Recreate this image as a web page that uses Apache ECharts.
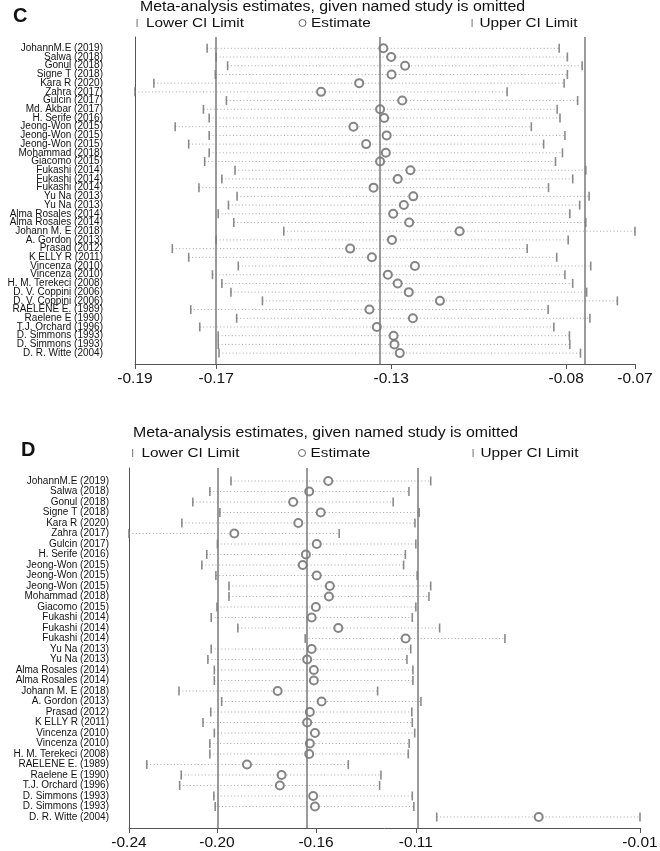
<!DOCTYPE html>
<html>
<head>
<meta charset="utf-8">
<script src="https://cdn.jsdelivr.net/npm/echarts@6/dist/echarts.min.js"></script>
<style>
html,body{margin:0;padding:0;background:#fff;}
#chart{width:660px;height:851px;}
</style>
</head>
<body>
<div id="chart"></div>
<script>
// ---------- Panel C data ----------
const studiesC = ["JohannM.E (2019)","Salwa (2018)","Gonul (2018)","Signe T (2018)","Kara R (2020)","Zahra (2017)","Gulcin (2017)","Md. Akbar (2017)","H. Serife (2016)","Jeong-Won (2015)","Jeong-Won (2015)","Jeong-Won (2015)","Mohammad (2018)","Giacomo (2015)","Fukashi (2014)","Fukashi (2014)","Fukashi (2014)","Yu Na (2013)","Yu Na (2013)","Alma Rosales (2014)","Alma Rosales (2014)","Johann M. E (2018)","A. Gordon (2013)","Prasad (2012)","K ELLY R (2011)","Vincenza (2010)","Vincenza (2010)","H. M. Terekeci (2008)","D. V. Coppini (2006)","D. V. Coppini (2006)","RAELENE E. (1989)","Raelene E (1990)","T.J. Orchard (1996)","D. Simmons (1993)","D. Simmons (1993)","D. R. Witte (2004)"];
const lowerC = [-0.1721,-0.1699,-0.1671,-0.1701,-0.1851,-0.1897,-0.1674,-0.1730,-0.1716,-0.1799,-0.1716,-0.1766,-0.1716,-0.1727,-0.1653,-0.1685,-0.1741,-0.1648,-0.1669,-0.1694,-0.1656,-0.1534,-0.1699,-0.1806,-0.1766,-0.1645,-0.1708,-0.1685,-0.1663,-0.1586,-0.1761,-0.1649,-0.1739,-0.1694,-0.1694,-0.1692];
const estC = [-0.1291,-0.1272,-0.1238,-0.1271,-0.1350,-0.1443,-0.1245,-0.1299,-0.1289,-0.1364,-0.1283,-0.1333,-0.1285,-0.1299,-0.1225,-0.1256,-0.1315,-0.1218,-0.1241,-0.1267,-0.1228,-0.1105,-0.1270,-0.1372,-0.1319,-0.1214,-0.1280,-0.1256,-0.1229,-0.1153,-0.1325,-0.1219,-0.1307,-0.1266,-0.1264,-0.1251];
const upperC = [-0.0862,-0.0842,-0.0806,-0.0842,-0.0850,-0.0989,-0.0817,-0.0867,-0.0860,-0.0930,-0.0848,-0.0900,-0.0854,-0.0871,-0.0797,-0.0829,-0.0888,-0.0789,-0.0812,-0.0836,-0.0797,-0.0677,-0.0840,-0.0940,-0.0868,-0.0785,-0.0848,-0.0829,-0.0795,-0.0720,-0.0889,-0.0787,-0.0875,-0.0837,-0.0836,-0.0810];
const overallC = [-0.1699, -0.1272, -0.0845];      // lower CI, estimate, upper CI
const rangeC = [-0.1897, -0.0677];                 // axis min / max
const ticksC = [rangeC[0], overallC[0], overallC[1], overallC[2], rangeC[1]];

// ---------- Panel D data ----------
const studiesD = ["JohannM.E (2019)","Salwa (2018)","Gonul (2018)","Signe T (2018)","Kara R (2020)","Zahra (2017)","Gulcin (2017)","H. Serife (2016)","Jeong-Won (2015)","Jeong-Won (2015)","Jeong-Won (2015)","Mohammad (2018)","Giacomo (2015)","Fukashi (2014)","Fukashi (2014)","Fukashi (2014)","Yu Na (2013)","Yu Na (2013)","Alma Rosales (2014)","Alma Rosales (2014)","Johann M. E (2018)","A. Gordon (2013)","Prasad (2012)","K ELLY R (2011)","Vincenza (2010)","Vincenza (2010)","H. M. Terekeci (2008)","RAELENE E. (1989)","Raelene E (1990)","T.J. Orchard (1996)","D. Simmons (1993)","D. Simmons (1993)","D. R. Witte (2004)"];
const lowerD = [-0.1941,-0.2036,-0.2113,-0.1991,-0.2162,-0.2400,-0.2002,-0.2050,-0.2072,-0.2009,-0.1950,-0.1950,-0.2004,-0.2030,-0.1910,-0.1607,-0.2030,-0.2045,-0.2016,-0.2016,-0.2175,-0.1983,-0.2032,-0.2067,-0.2016,-0.2036,-0.2036,-0.2320,-0.2165,-0.2172,-0.2018,-0.2012,-0.1015];
const estD = [-0.1503,-0.1589,-0.1661,-0.1537,-0.1638,-0.1926,-0.1555,-0.1604,-0.1618,-0.1555,-0.1496,-0.1500,-0.1559,-0.1578,-0.1458,-0.1155,-0.1578,-0.1598,-0.1568,-0.1568,-0.1731,-0.1533,-0.1586,-0.1598,-0.1563,-0.1586,-0.1589,-0.1869,-0.1713,-0.1721,-0.1571,-0.1563,-0.0556];
const upperD = [-0.1042,-0.1140,-0.1211,-0.1094,-0.1113,-0.1454,-0.1109,-0.1156,-0.1164,-0.1103,-0.1042,-0.1050,-0.1109,-0.1125,-0.1002,-0.0708,-0.1132,-0.1149,-0.1122,-0.1122,-0.1281,-0.1086,-0.1127,-0.1125,-0.1114,-0.1139,-0.1143,-0.1413,-0.1266,-0.1272,-0.1125,-0.1118,-0.0100];
const overallD = [-0.2004, -0.1558, -0.1109];
const rangeD = [-0.2400, -0.0100];
const ticksD = [rangeD[0], overallD[0], overallD[1], overallD[2], rangeD[1]];

const TITLE_TEXT = 'Meta-analysis estimates, given named study is omitted';
const FONT = '"Liberation Sans", Arial, Helvetica, sans-serif';
const AXIS_COLOR = '#555';
const REF_COLOR = '#7a7a7a';
const BAR_COLOR = '#6e6e6e';

function rowsParity(n, parity){ const r=[]; for(let i=1;i<=n;i++) if(i%2===parity) r.push(i); return r; }

function xAxisFor(idx, range, ticks){
  return {
    type:'value', gridIndex:idx, min:range[0], max:range[1],
    splitLine:{show:false},
    axisLine:{show:true, onZero:false, lineStyle:{color:AXIS_COLOR, width:1}},
    axisTick:{show:true, length:5, customValues:ticks, lineStyle:{color:AXIS_COLOR}},
    axisLabel:{show:true, customValues:ticks, showMinLabel:true, showMaxLabel:true, hideOverlap:false, margin:7,
      fontSize:15.5, color:'#111', fontFamily:FONT, formatter:(v)=>v.toFixed(2)}
  };
}

// Study names: odd rows on one axis, even rows on a twin axis (keeps every tight label visible)
function yAxisFor(idx, names, yMin, yMax, labelMargin, parity, showLine){
  return {
    type:'value', gridIndex:idx, inverse:true, min:yMin, max:yMax, position:'left', offset:0,
    splitLine:{show:false},
    axisLine:{show:showLine, onZero:false, lineStyle:{color:AXIS_COLOR, width:1}},
    axisTick:{show:false},
    axisLabel:{show:true, customValues:rowsParity(names.length, parity), showMinLabel:true, showMaxLabel:true, hideOverlap:false,
      margin:labelMargin, fontSize:10, color:'#111', fontFamily:FONT,
      formatter:(v)=>names[Math.round(v)-1] || ''}
  };
}

function panelSeries(xIdx, yIdx, lower, est, upper, overall){
  const n = est.length;
  const ciData = [], loData = [], upData = [], estData = [];
  for(let i=0;i<n;i++){
    ciData.push([lower[i], upper[i], i+1]);
    loData.push([lower[i], i+1]);
    upData.push([upper[i], i+1]);
    estData.push([est[i], i+1]);
  }
  return [
    { type:'custom', name:'CI', xAxisIndex:xIdx, yAxisIndex:yIdx, silent:true, z:1,
      encode:{x:[0,1], y:2}, data:ciData,
      renderItem:(params, api)=>{
        const p1 = api.coord([api.value(0), api.value(2)]);
        const p2 = api.coord([api.value(1), api.value(2)]);
        return {type:'line', shape:{x1:p1[0], y1:p1[1], x2:p2[0], y2:p2[1]},
          style:{stroke:'#a6a6a6', lineWidth:1, lineDash:[1,2.4]}};
      },
      markLine:{ silent:true, symbol:['none','none'], label:{show:false},
        lineStyle:{type:'solid', color:REF_COLOR, width:1.5},
        data: overall.map(v=>({xAxis:v})) }
    },
    { type:'scatter', name:'Lower CI Limit', xAxisIndex:xIdx, yAxisIndex:yIdx, z:3,
      symbol:'rect', symbolSize:[1.6,9], itemStyle:{color:BAR_COLOR}, data:loData },
    { type:'scatter', name:'Upper CI Limit', xAxisIndex:xIdx, yAxisIndex:yIdx, z:3,
      symbol:'rect', symbolSize:[1.6,9], itemStyle:{color:BAR_COLOR}, data:upData },
    { type:'scatter', name:'Estimate', xAxisIndex:xIdx, yAxisIndex:yIdx, z:4,
      symbol:'emptyCircle', symbolSize:8, itemStyle:{color:'#666', borderWidth:1}, data:estData }
  ];
}

function stretchedText(x, y, text, size, sx, weight){
  return {type:'text', x:x, y:y, scaleX:sx, scaleY:1,
    style:{x:0, y:0, text:text, font:(weight||'normal')+' '+size+'px '+FONT, fill:'#111', verticalAlign:'middle'}};
}

function headerGraphics(titleX, titleY, legY, barX, circX, upX){
  return [
    stretchedText(titleX, titleY, TITLE_TEXT, 14, 1.135),
    {type:'rect', shape:{x:barX, y:legY-4, width:1.2, height:8}, style:{fill:'#888'}},
    stretchedText(barX+9.5, legY, 'Lower CI Limit', 13, 1.18),
    {type:'circle', shape:{cx:circX, cy:legY, r:3.5}, style:{fill:'#fff', stroke:'#666', lineWidth:1}},
    stretchedText(circX+8.5, legY, 'Estimate', 13, 1.18),
    {type:'rect', shape:{x:upX, y:legY-4, width:1.2, height:8}, style:{fill:'#888'}},
    stretchedText(upX+8, legY, 'Upper CI Limit', 13, 1.18)
  ];
}

const option = {
  animation:false,
  backgroundColor:'#fff',
  grid:[
    {left:135, top:37, width:500, height:327, containLabel:false, outerBoundsMode:'none'},
    {left:129, top:468, width:511, height:360, containLabel:false, outerBoundsMode:'none'}
  ],
  xAxis:[xAxisFor(0, rangeC, ticksC), xAxisFor(1, rangeD, ticksD)],
  yAxis:[
    yAxisFor(0, studiesC, -0.3, 37.25, 32, 1, true),
    yAxisFor(0, studiesC, -0.3, 37.25, 32, 0, false),
    yAxisFor(1, studiesD, -0.24, 34.05, 20, 1, true),
    yAxisFor(1, studiesD, -0.24, 34.05, 20, 0, false)
  ],
  series: panelSeries(0, 0, lowerC, estC, upperC, overallC).concat(panelSeries(1, 2, lowerD, estD, upperD, overallD)),
  graphic:[
    stretchedText(13, 16, 'C', 20, 1, 'bold'),
    stretchedText(21, 450, 'D', 20, 1, 'bold')
  ].concat(headerGraphics(140, 7, 23, 136.5, 302.5, 471.5))
   .concat(headerGraphics(133, 433, 453, 132, 302, 472.5))
};

const chart = echarts.init(document.getElementById('chart'), null, {renderer:'canvas'});
chart.setOption(option);
</script>
</body>
</html>
